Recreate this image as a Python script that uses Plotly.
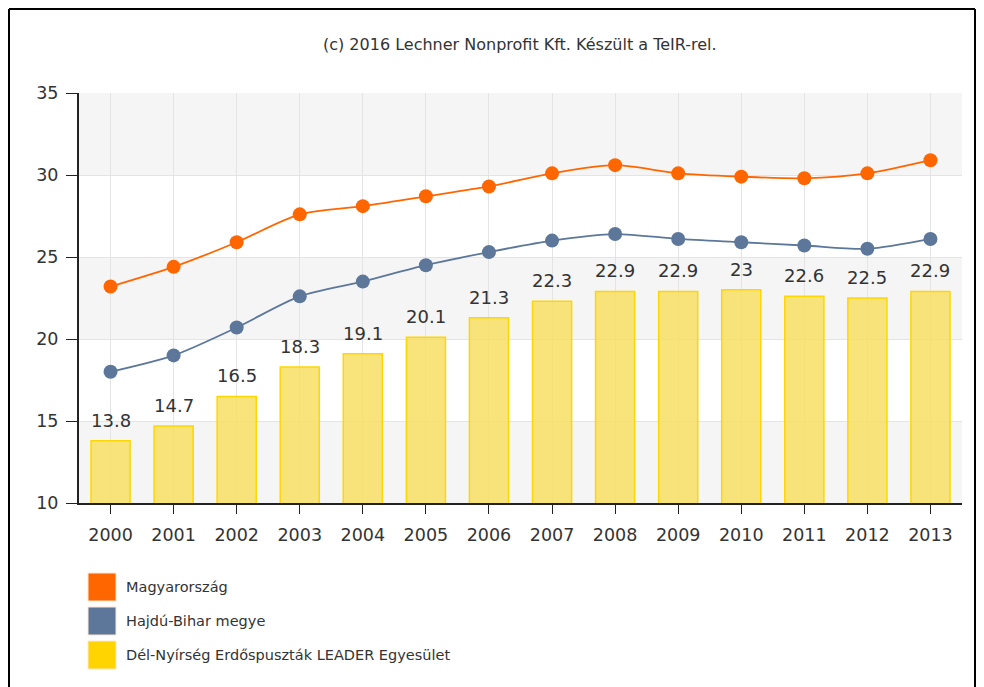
import plotly.graph_objects as go

# adatok
evek = ["2000", "2001", "2002", "2003", "2004", "2005", "2006",
        "2007", "2008", "2009", "2010", "2011", "2012", "2013"]
magyarorszag = [23.2, 24.4, 25.9, 27.6, 28.1, 28.7, 29.3, 30.1, 30.6, 30.1, 29.9, 29.8, 30.1, 30.9]
hajdu_bihar = [18.0, 19.0, 20.7, 22.6, 23.5, 24.5, 25.3, 26.0, 26.4, 26.1, 25.9, 25.7, 25.5, 26.1]
leader = [13.8, 14.7, 16.5, 18.3, 19.1, 20.1, 21.3, 22.3, 22.9, 22.9, 23, 22.6, 22.5, 22.9]

nevek = ["Magyarország", "Hajdú-Bihar megye", "Dél-Nyírség Erdőspuszták LEADER Egyesület"]
szinek = ["#ff6600", "#5c7799", "#ffd400"]

FONT = "DejaVu Sans"

fig = go.Figure()

fig.add_trace(go.Bar(
    x=evek, y=leader, name=nevek[2], width=0.62,
    marker=dict(color="rgba(248,222,100,0.85)", line=dict(color="#ffd700", width=1.5)),
))
fig.add_trace(go.Scatter(
    x=evek, y=hajdu_bihar, name=nevek[1], mode="lines+markers",
    line=dict(color=szinek[1], width=1.8, shape="spline", smoothing=0.8),
    marker=dict(size=14, color=szinek[1]),
))
fig.add_trace(go.Scatter(
    x=evek, y=magyarorszag, name=nevek[0], mode="lines+markers",
    line=dict(color=szinek[0], width=1.8, shape="spline", smoothing=0.8),
    marker=dict(size=14, color=szinek[0]),
))

# oszlopcímkék (kategória index szerint)
for i, v in enumerate(leader):
    fig.add_annotation(x=i, y=v, text=f"{v:g}", showarrow=False, yanchor="bottom",
                       yshift=8, font=dict(family=FONT, size=18, color="#333"))

# sávos háttér
for lo, hi in [(10, 15), (20, 25), (30, 35)]:
    fig.add_shape(type="rect", xref="paper", yref="y", x0=0, x1=1, y0=lo, y1=hi,
                  fillcolor="#f5f5f5", line_width=0, layer="below")

# a lap 8 px-es margója miatt minden képpont-koordinátát 8-cal eltolunk
OFF = 8
L, B, H, W = 79 - OFF, 503 - OFF, 410, 883
def px(xp): return (xp - OFF - L) / W
def py(yp): return (B - (yp - OFF)) / H

# jelmagyarázat kézzel (nagy négyzetek)
for i, (n, c) in enumerate(zip(nevek, szinek)):
    top = 573 + i * 34
    fig.add_shape(type="rect", xref="paper", yref="paper",
                  x0=px(88), x1=px(116), y0=py(top), y1=py(top + 28),
                  fillcolor=c, line=dict(color="#fbe7d0", width=1))
    fig.add_annotation(xref="paper", yref="paper", x=px(124), y=py(top + 14),
                       text=n, showarrow=False, xanchor="left", yanchor="middle",
                       font=dict(family=FONT, size=14.5, color="#333"))

# keret
for x0, y0, x1, y1 in [(9, 9, 9, 700), (9, 9, 975, 9), (975, 9, 975, 700)]:
    fig.add_shape(type="line", xref="paper", yref="paper",
                  x0=px(x0), y0=py(y0), x1=px(x1), y1=py(y1),
                  line=dict(color="black", width=2))

fig.add_annotation(xref="paper", yref="paper", x=px(520), y=py(45),
                   xanchor="center", yanchor="middle",
                   text="(c) 2016 Lechner Nonprofit Kft. Készült a TeIR-rel.",
                   showarrow=False, font=dict(family=FONT, size=16, color="#333"))

fig.update_layout(
    width=976, height=679,
    margin=dict(l=L, r=976 - L - W, t=B - H, b=679 - B),
    plot_bgcolor="white", paper_bgcolor="white",
    showlegend=False,
    font=dict(family=FONT, color="#333"),
)
fig.update_xaxes(
    type="category", range=[-0.5, 13.5],
    showline=True, linecolor="#222", linewidth=2,
    ticks="outside", ticklen=9, tickcolor="#222", ticklabelstandoff=6,
    showgrid=True, gridcolor="#e4e4e4",
    tickfont=dict(family=FONT, size=17.5, color="#333"),
)
fig.update_yaxes(
    range=[10, 35], dtick=5,
    showline=True, linecolor="#222", linewidth=2,
    ticks="outside", ticklen=11, tickcolor="#222", ticklabelstandoff=4,
    showgrid=True, gridcolor="#e4e4e4", zeroline=False,
    tickfont=dict(family=FONT, size=17.5, color="#333"),
)

fig.write_html("out.html")
